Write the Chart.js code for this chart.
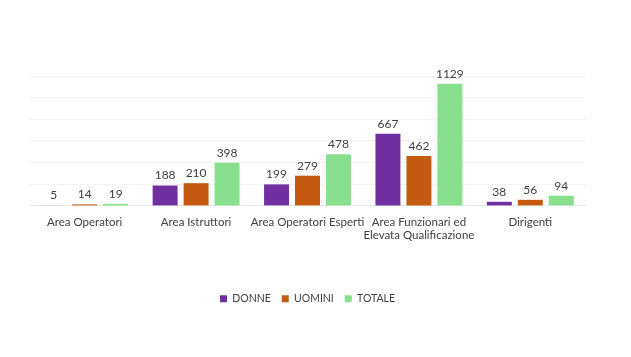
<!DOCTYPE html>
<html><head><meta charset="utf-8">
<script src="https://cdn.jsdelivr.net/npm/chart.js@4"></script>
<style>html,body{margin:0;padding:0;background:#fff}#wrap{width:631px;height:357px}</style>
</head><body><div id="wrap"><canvas id="c" width="631" height="357"></canvas></div>
<script>
const categories = [["Area Operatori"], ["Area Istruttori"], ["Area Operatori Esperti"], ["Area Funzionari ed", "Elevata Qualificazione"], ["Dirigenti"]];
const donne = [5, 188, 199, 667, 38];
const uomini = [14, 210, 279, 462, 56];
const totale = [19, 398, 478, 1129, 94];
const seriesNames = ["DONNE", "UOMINI", "TOTALE"];
const colors = ["#7030A0", "#C55A11", "#88E08E"];
const FONT = "Lato, 'Liberation Sans', sans-serif";

const valueLabels = {
  id: 'valueLabels',
  afterDatasetsDraw(chart) {
    const ctx = chart.ctx;
    ctx.save();
    ctx.font = "12px " + FONT;
    ctx.fillStyle = "#404040";
    ctx.textAlign = "center";
    ctx.textBaseline = "bottom";
    chart.data.datasets.forEach((ds, i) => {
      chart.getDatasetMeta(i).data.forEach((bar, j) => {
        ctx.fillText(String(ds.data[j]), bar.x, bar.y - 4);
      });
    });
    ctx.restore();
  }
};

new Chart(document.getElementById('c'), {
  type: 'bar',
  data: {
    labels: categories,
    datasets: [
      {label: seriesNames[0], data: donne, backgroundColor: colors[0]},
      {label: seriesNames[1], data: uomini, backgroundColor: colors[1]},
      {label: seriesNames[2], data: totale, backgroundColor: colors[2]}
    ]
  },
  options: {
    responsive: false,
    animation: false,
    devicePixelRatio: 1,
    layout: {padding: {left: 29, right: 45, top: 76, bottom: 43}},
    datasets: {bar: {categoryPercentage: 0.834, barPercentage: 0.806}},
    scales: {
      x: {
        grid: {display: false},
        border: {display: true, color: "#e6e6e6"},
        ticks: {color: "#404040", font: {family: FONT, size: 11.5}, maxRotation: 0, autoSkip: false, padding: 1},
        afterFit(scale) { scale.height += 39; }
      },
      y: {
        min: 0, max: 1200,
        ticks: {display: false, stepSize: 200},
        grid: {color: "#f3f3f3", drawTicks: false},
        border: {display: false}
      }
    },
    plugins: {
      legend: {
        position: 'bottom',
        labels: {boxWidth: 7, boxHeight: 7, padding: 11, color: "#404040", font: {family: FONT, size: 10.5}}
      },
      tooltip: {enabled: false}
    }
  },
  plugins: [valueLabels]
});
</script></body></html>
